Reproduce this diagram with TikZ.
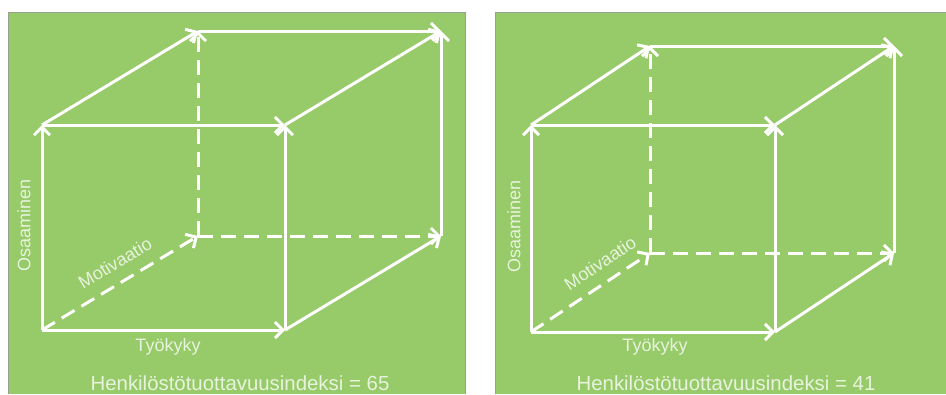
\documentclass[tikz,border=0pt]{standalone}
\usepackage{fontspec}
\setmainfont{Liberation Sans}
\usetikzlibrary{arrows.meta}
\definecolor{panelgreen}{RGB}{151,202,104}
\definecolor{panelborder}{RGB}{150,162,140}
\definecolor{labelwhite}{RGB}{232,243,222}

\begin{document}
\begin{tikzpicture}[x=1pt,y=-1pt,
  edge/.style={white,line width=3pt,-{Straight Barb[length=8pt,width=16pt]}},
  hidden/.style={edge,dash pattern=on 15pt off 8pt},
  axislabel/.style={font=\fontsize{18}{21}\selectfont,text=labelwhite,inner sep=0pt},
  indexlabel/.style={font=\fontsize{20.4}{24}\selectfont,text=labelwhite,inner sep=0pt}]

\useasboundingbox (0,0) rectangle (946,394);

%% ── panels ───────────────────────────────────────────────────────────────────
\fill[panelgreen] (8,12) rectangle (465,394);
\draw[panelborder,line width=0.8pt] (8,394) -- (8,12) -- (465,12) -- (465,394);
\fill[panelgreen] (495,12) rectangle (946,394);
\draw[panelborder,line width=0.8pt] (495,394) -- (495,12) -- (946,12);

%% ════════════════════════════════════════════════════════════════════════════
%%  LEFT CUBE — index 65
%% ════════════════════════════════════════════════════════════════════════════
\coordinate (lA) at (42,330);
\coordinate (lB) at (285,330);
\coordinate (lC) at (42,125);
\coordinate (lD) at (285,125);
\coordinate (lE) at (198,236);
\coordinate (lF) at (441,236);
\coordinate (lG) at (198,31);
\coordinate (lH) at (441,31);

%% hidden edges
\draw[hidden] (lA) -- (lE);
\draw[hidden] (lE) -- (lG);
\draw[hidden] (lE) -- (lF);
%% front face
\draw[edge] (lA) -- (lC);
\draw[edge] (lA) -- (lB);
\draw[edge] (lC) -- (lD);
\draw[edge] (lB) -- (lD);
%% depth and back edges
\draw[edge] (lC) -- (lG);
\draw[edge] (lD) -- (lH);
\draw[edge] (lB) -- (lF);
\draw[edge] (lG) -- (lH);
\draw[edge] (lF) -- (lH);

\node[axislabel,rotate=90] (lOsa) at (24,225) {Osaaminen};
\node[axislabel,rotate=31] (lMot) at (115,263) {Motivaatio};
\node[axislabel] (lTyo) at (168,347) {Työkyky};
\node[indexlabel] (lIdx) at (240,383) {Henkilöstötuottavuusindeksi = 65};

%% ════════════════════════════════════════════════════════════════════════════
%%  RIGHT CUBE — index 41 (shorter depth)
%% ════════════════════════════════════════════════════════════════════════════
\coordinate (rA) at (531,332);
\coordinate (rB) at (775,332);
\coordinate (rC) at (531,125);
\coordinate (rD) at (775,125);
\coordinate (rE) at (650,253);
\coordinate (rF) at (894,253);
\coordinate (rG) at (650,46);
\coordinate (rH) at (894,46);

%% hidden edges
\draw[hidden] (rA) -- (rE);
\draw[hidden] (rE) -- (rG);
\draw[hidden] (rE) -- (rF);
%% front face
\draw[edge] (rA) -- (rC);
\draw[edge] (rA) -- (rB);
\draw[edge] (rC) -- (rD);
\draw[edge] (rB) -- (rD);
%% depth and back edges
\draw[edge] (rC) -- (rG);
\draw[edge] (rD) -- (rH);
\draw[edge] (rB) -- (rF);
\draw[edge] (rG) -- (rH);
\draw[edge] (rF) -- (rH);

\node[axislabel,rotate=90] (rOsa) at (514,226) {Osaaminen};
\node[axislabel,rotate=34] (rMot) at (600,263) {Motivaatio};
\node[axislabel] (rTyo) at (655,347) {Työkyky};
\node[indexlabel] (rIdx) at (726,383) {Henkilöstötuottavuusindeksi = 41};

\end{tikzpicture}
\end{document}
